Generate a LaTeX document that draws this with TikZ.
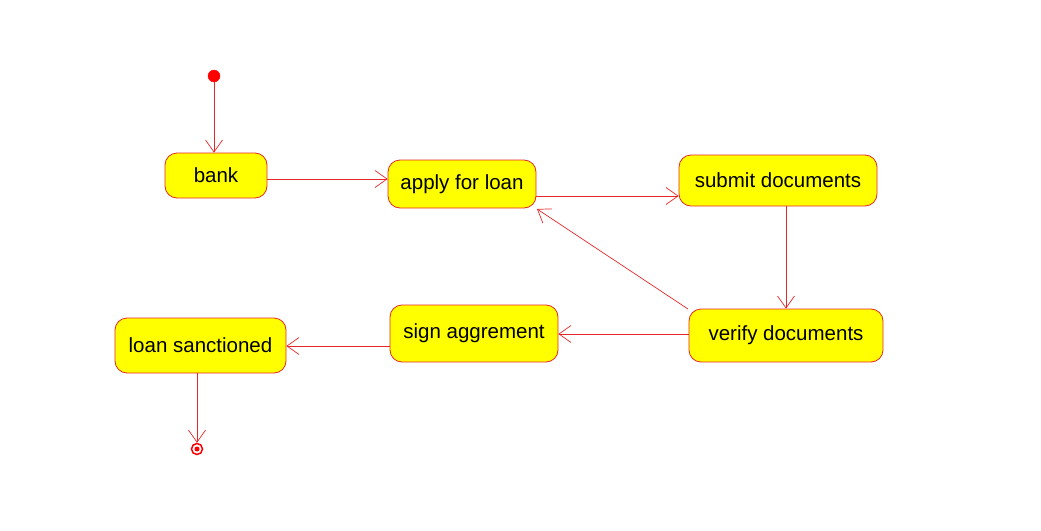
\documentclass[tikz,border=0pt]{standalone}
\usepackage{fontspec}
\setmainfont{Liberation Sans}
\usetikzlibrary{arrows.meta}
\definecolor{linered}{RGB}{230,40,40}
\definecolor{fillyellow}{RGB}{255,255,0}
\tikzset{
  state/.style={draw=linered, fill=fillyellow, rounded corners=12pt, line width=0.8pt,
    minimum width=#1, inner sep=0pt, font=\fontsize{20.5}{24}\selectfont},
  flow/.style={draw=linered, line width=0.7pt, -{Straight Barb[length=12pt,width=17pt,line width=0.7pt]}},
  dot/.style={circle, fill=red, draw=red, minimum size=12pt, inner sep=0pt},
}
\begin{document}
\begin{tikzpicture}[x=1pt,y=-1pt]
\useasboundingbox (0,0) rectangle (1041,530);
\node[dot] (init) at (214,76) {};
\node[state=102pt, minimum height=45pt] (bank) at (216,175.5) {bank};
\node[state=148pt, minimum height=48pt] (apply) at (462,184) {apply for loan};
\node[state=198pt, minimum height=51pt] (submit) at (778,180.5) {submit documents};
\node[state=194pt, minimum height=53pt] (verify) at (786,335.5) {verify documents};
\node[state=168pt, minimum height=57pt] (sign) at (474,333.5) {sign aggrement};
\node[state=171pt, minimum height=55pt] (loan) at (200.5,345.5) {loan sanctioned};
\node[circle, draw=red, line width=1.5pt, minimum size=11pt, inner sep=0pt] (final) at (197,449) {};
\node[circle, fill=red, minimum size=5pt, inner sep=0pt] at (final) {};
\coordinate (vfrom) at (688,309);
\coordinate (ato) at (537,209);

\draw[flow] (init) -- (init |- bank.north);
\draw[flow] (bank.east |- 0,179) -- (apply.west |- 0,179);
\draw[flow] (apply.east |- 0,196) -- (submit.west |- 0,196);
\draw[flow] (submit.south -| 786,0) -- (verify.north -| 786,0);
\draw[flow] (vfrom) -- (ato);
\draw[flow] (verify.west |- 0,334) -- (sign.east |- 0,334);
\draw[flow] (sign.west |- 0,346) -- (loan.east |- 0,346);
\draw[flow] (loan.south -| 197,0) -- (final.north);
\end{tikzpicture}
\end{document}
